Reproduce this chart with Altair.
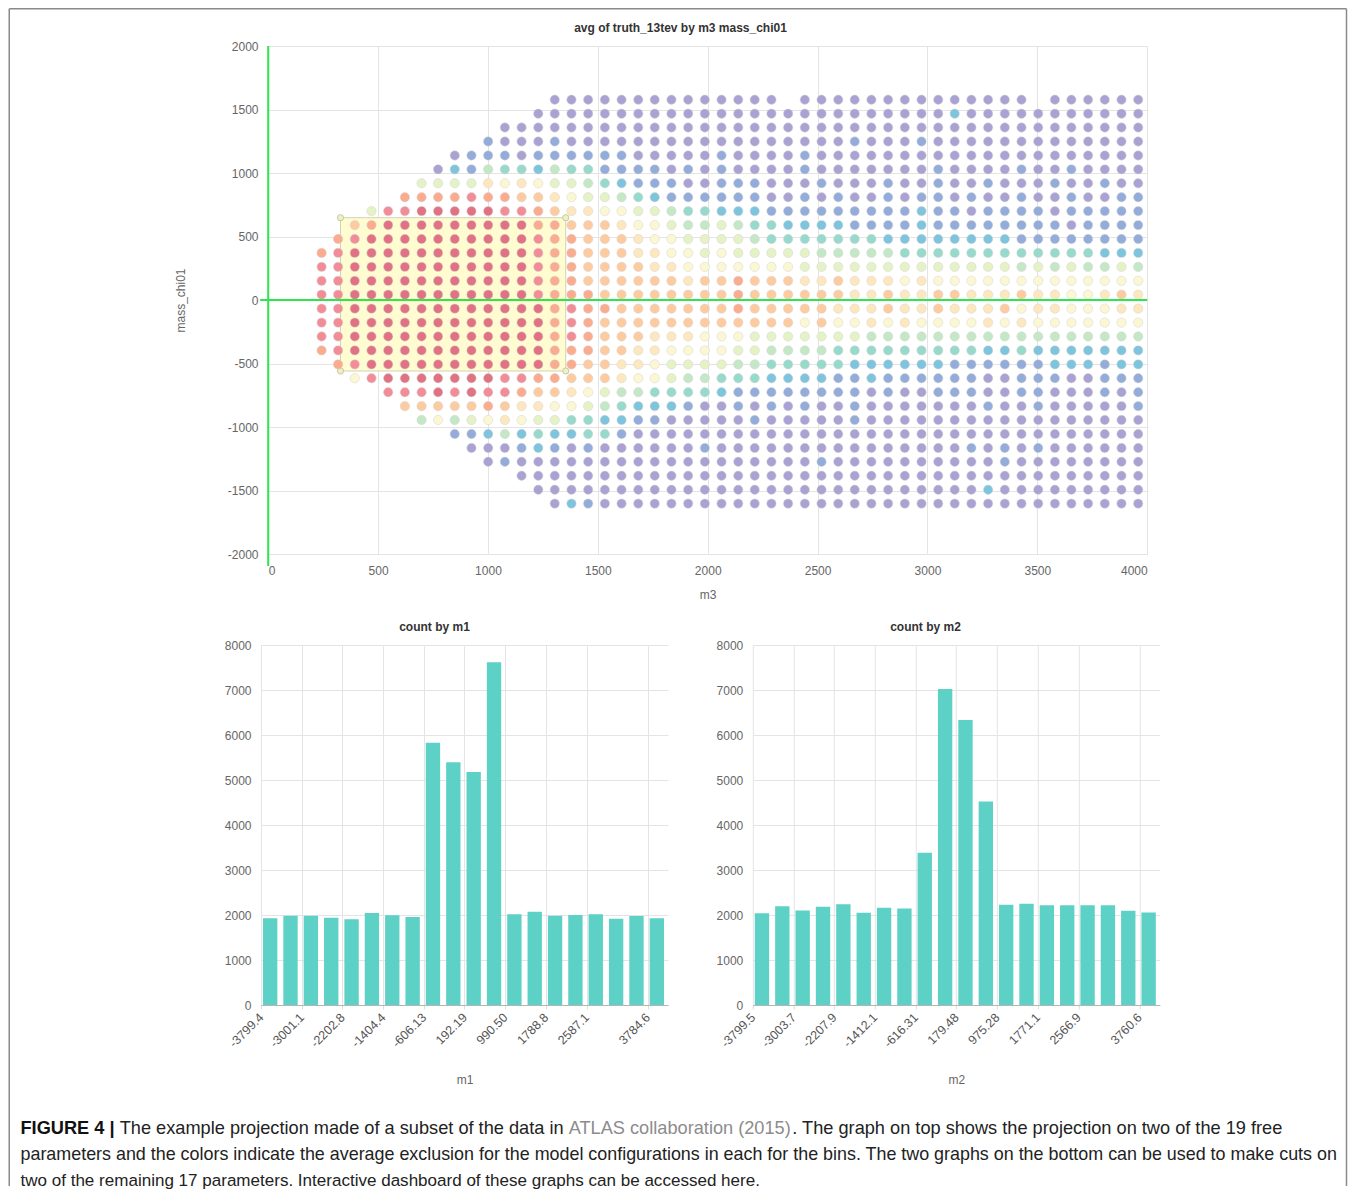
import altair as alt
import pandas as pd

# ---------------- top chart: binned grid (m3 x mass_chi01) ----------------
M3_CENTERS = [243, 318, 394, 470, 546, 622, 698, 773, 849, 925,
              1001, 1077, 1153, 1229, 1304, 1380, 1456, 1532, 1608, 1684,
              1759, 1835, 1911, 1987, 2063, 2139, 2214, 2290, 2366, 2442,
              2518, 2594, 2669, 2745, 2821, 2897, 2973, 3049, 3124, 3200,
              3276, 3352, 3428, 3504, 3580, 3655, 3731, 3807, 3883, 3959]
CHI_CENTERS = [1577, 1467, 1358, 1248, 1138, 1029, 919, 809, 700, 590,
               480, 371, 261, 151, 42, -68, -178, -287, -397, -507,
               -616, -726, -836, -945, -1055, -1165, -1274, -1384, -1494, -1603]

# one string per mass_chi01 row (top to bottom), one char per m3 column;
# '.' = empty bin, letters = average exclusion level (P lowest ... R highest)
GRID_ROWS = [
    ".........." "....PPPPPP" "PPPPPPPP.P" "PPPPPPPPPP" "PPP.PPPPPP",
    ".........." "...PPPPPPP" "PPPPPPPPPP" "PPPPPPPPCP" "PPPPPPPPPP",
    ".........." ".PPPPPPPPP" "PPPPPPPPPP" "PPPPPPPPPP" "PPPPPPPPPP",
    ".........." "BPPPBPPPPP" "PPPPPPPPPP" "PPBPPPBPPP" "PPPPPPPPPP",
    "........PB" "BBPBBBBBBP" "PPPPBPPPPB" "PPPPPPPPPP" "PPPPPPPPPP",
    ".......PCB" "GTTCGTTBBB" "BPBPBPPPPB" "PPPPPPPBPP" "PPBPPBPPPP",
    "......gggg" "yYyYggGTCB" "BBPPBBBPPP" "BPPPBPPBPP" "BPPPBPPBPP",
    ".....SSSSK" "SSOOyYggGT" "CBBBBBBPPB" "PBPPBPBBPB" "PPBPPBPPBB",
    "...gKKRRRR" "RKKSOyyYYg" "gGTTCCCBBB" "BBBBBBCBBP" "BBBBPBBBBB",
    "..OSRRRRRR" "RRRSSOOOyY" "YgGGgGTTCC" "CCBBBBCBBB" "BBBBBPBBBB",
    ".SKRRRRRRR" "RRRKSSOOOy" "YYggggGTTT" "TTTTCCCCCC" "CCBBBBBBBB",
    "SKRRRRRRRR" "RRRKSSOOOy" "yYYgYggggg" "GGGGGTTTTT" "TTTTTTTCCC",
    "KKRRRRRRRR" "RRRKSSOOOO" "yyYYYYYYYg" "gggggggggg" "ggGgGgGGgG",
    "KKRRRRRRRR" "RRRKSSOOOO" "OOyOOSOOOy" "yOyyyYyYYY" "YYYYYYYYYY",
    "KKRRRRRRRR" "RRRKSSSOOO" "OOOOOSOOOO" "OOyyOyyOOy" "yyOyyYYyOy",
    "KKRRRRRRRR" "RRRRSKSSOO" "OOOOOSOOOO" "OyyyOyyOyy" "yOYyyYYYyy",
    "KKRRRRRRRR" "RRRRSKSOOO" "OOOOOOOOOY" "OYYyYyYYYY" "yYyYYYYYYY",
    "KKRRRRRRRR" "RRRRSKSOOO" "yyyYYYgggg" "gggGGGGGGG" "GGGGGGGGGG",
    "SKRRRRRRRR" "RRRRSSSOOy" "yYYYYggGGG" "GTTTTTTTTT" "CCTCCCCCCC",
    ".SKRRRRRRR" "RRRRSSOOyy" "YggggGGTTT" "TTCCCCCCBB" "BBBBCCCBCC",
    "..YKRRRRRR" "RKKSSOOOyY" "YgGGTTTCCC" "CBBCBBBBBB" "PPBBBPPBBB",
    "....KKKRKR" "KKSOOyYgGG" "TTTTCBBBBB" "BBBPBPPBBB" "PPBBPPPBPB",
    ".....OOOOO" "SOyyYYgGTC" "CCBPPBPBPB" "PPBPPPPPPP" "BPPBPPPPPB",
    "......GYGg" "YyYggTTCCB" "BPPPPPBPPP" "PPBPPPPPPP" "PPPPPPPPPP",
    "........BB" "CGCTCCTTBP" "PPPPPPPPPP" "PPPPPPPPPP" "PPPPPPPPPP",
    ".........P" "PPBCBPBPPP" "PPPBPPPPPP" "PPPPPPPPPB" "PBPBPPPPPP",
    ".........." "PBPPPPPPPP" "PPPPPPPPPP" "BPPPPPPPPP" "PBPPPPPPPP",
    ".........." "..PPPPPPPP" "PPPPPPPPPP" "PPPPPPPPPP" "PPPPPPPPPP",
    ".........." "...PPPPPPP" "PPPPPPPPPP" "PPPPPPPPPP" "CPPPPPPPPP",
    ".........." "....PCBPPP" "PPPPPPPPPP" "PPPPPPPPPP" "PPPPPPPPPP",
]
LEVEL_CODES = "PBCTGgYyOSKR"
LEVEL_VALUES = [round(i / 11, 4) for i in range(len(LEVEL_CODES))]
LEVEL_COLORS = ["#aaa2d2", "#93acd9", "#7fc4dd", "#97dacb", "#c4e8c5", "#e4f2c5",
                "#fbf7d2", "#fde7be", "#fdcb9f", "#fbab8e", "#f28d98", "#e07283"]

X_TICKS = [0, 500, 1000, 1500, 2000, 2500, 3000, 3500, 4000]
Y_TICKS = [-2000, -1500, -1000, -500, 0, 500, 1000, 1500, 2000]

# current brush selection on the top chart
SEL_M3 = [329, 1354]
SEL_CHI = [-559, 648]

# ---------------- bottom histograms ----------------
M1_START, M1_WIDTH = -3799.4, 399.16
M1_COUNTS = [1926, 1985, 1985, 1941, 1904, 2044, 1993, 1956, 5830, 5393,
             5178, 7615, 2015, 2074, 1985, 2000, 2015, 1919, 1978, 1926]
M1_TICK_LABELS = ["-3799.4", "-3001.1", "-2202.8", "-1404.4", "-606.13",
                  "192.19", "990.50", "1788.8", "2587.1", "3784.6"]

M2_START, M2_WIDTH = -3799.5, 397.9
M2_COUNTS = [2041, 2196, 2100, 2181, 2240, 2048, 2159, 2144, 3386, 7024,
             6336, 4525, 2226, 2248, 2218, 2218, 2218, 2218, 2093, 2056]
M2_TICK_LABELS = ["-3799.5", "-3003.7", "-2207.9", "-1412.1", "-616.31",
                  "179.48", "975.28", "1771.1", "2566.9", "3760.6"]
COUNT_TICKS = [0, 1000, 2000, 3000, 4000, 5000, 6000, 7000, 8000]

TITLE_TOP = "avg of truth_13tev by m3 mass_chi01"
TITLE_M1 = "count by m1"
TITLE_M2 = "count by m2"

CAPTION_LABEL = "FIGURE 4 |"
CAPTION_L1A = "The example projection made of a subset of the data in"
CAPTION_LINK = "ATLAS collaboration (2015)"
CAPTION_L1B = ". The graph on top shows the projection on two of the 19 free"
CAPTION_L2 = ("parameters and the colors indicate the average exclusion for the model "
              "configurations in each for the bins. The two graphs on the bottom can be used to make cuts on")
CAPTION_L3 = "two of the remaining 17 parameters. Interactive dashboard of these graphs can be accessed here."

FONT = "Liberation Sans"
BORDER = "#8a8a8a"
GREEN = "#2de64b"
BAR = "#5dd1c5"

# ---------------- build tables ----------------
recs = []
for r, row in enumerate(GRID_ROWS):
    assert len(row) == len(M3_CENTERS)
    for c, ch in enumerate(row):
        if ch == ".":
            continue
        recs.append({"m3": M3_CENTERS[c], "mass_chi01": CHI_CENTERS[r],
                     "avg_truth_13tev": LEVEL_VALUES[LEVEL_CODES.index(ch)]})
grid_df = pd.DataFrame(recs)

# layout (all flush): top view origin (260.5, 46) on the page, bottom views at y=645
LEAD = 7.2                     # empty lead-in left of m3 = 0
W_T, H_T = 879 + LEAD, 508
W_B, H_B = 407, 360

xs = alt.Scale(domain=[0, 4000], range=[LEAD, W_T], nice=False, zero=False)
ys = alt.Scale(domain=[-2000, 2000], nice=False, zero=False)
lab_expr = "replace(datum.label, '\u2212', '-')"

x_axis = alt.Axis(values=X_TICKS, format="d", labelExpr=lab_expr, labelPadding=11,
                  titleX=LEAD + 439.5, titleY=40, titleBaseline="middle", titleAlign="center")
y_axis = alt.Axis(values=Y_TICKS, format="d", labelExpr=lab_expr, labelPadding=3,
                  titleX=-80.5, titleY=H_T / 2, titleBaseline="middle", titleAlign="center")

one = pd.DataFrame({"k": [0]})

sel_rect = alt.Chart(pd.DataFrame({"m3": [SEL_M3[0]], "m3_2": [SEL_M3[1]],
                                   "mass_chi01": [SEL_CHI[0]], "chi_2": [SEL_CHI[1]]})).mark_rect(
    fill="#fffcd2", stroke="#d2d2b4", strokeWidth=1
).encode(
    x=alt.X("m3:Q", scale=xs, title="m3"), x2="m3_2:Q",
    y=alt.Y("mass_chi01:Q", scale=ys, title="mass_chi01"), y2="chi_2:Q",
)
sel_handles = alt.Chart(pd.DataFrame({
    "m3": [SEL_M3[0], SEL_M3[1], SEL_M3[0], SEL_M3[1]],
    "mass_chi01": [SEL_CHI[0], SEL_CHI[0], SEL_CHI[1], SEL_CHI[1]],
})).mark_circle(size=38, fill="#edf2c4", stroke="#c8c8a8", strokeWidth=1, opacity=1).encode(
    x=alt.X("m3:Q", scale=xs, title="m3"),
    y=alt.Y("mass_chi01:Q", scale=ys, title="mass_chi01"),
)
dots = alt.Chart(grid_df).mark_circle(size=88, opacity=1, stroke="#d4d4d4", strokeWidth=0.5).encode(
    x=alt.X("m3:Q", scale=xs, axis=x_axis, title="m3"),
    y=alt.Y("mass_chi01:Q", scale=ys, axis=y_axis, title="mass_chi01"),
    color=alt.Color("avg_truth_13tev:Q", legend=None,
                    scale=alt.Scale(domain=LEVEL_VALUES, range=LEVEL_COLORS)),
)
zero_v = alt.Chart(pd.DataFrame({"m3": [0], "mass_chi01": [2000], "chi_2": [-2000]})).mark_rule(
    color=GREEN, strokeWidth=2, y2Offset=12
).encode(x=alt.X("m3:Q", scale=xs, title="m3"),
         y=alt.Y("mass_chi01:Q", scale=ys, title="mass_chi01"), y2="chi_2:Q")
zero_h = alt.Chart(pd.DataFrame({"m3": [0], "m3_2": [4000], "mass_chi01": [0]})).mark_rule(
    color=GREEN, strokeWidth=2, xOffset=-8
).encode(x=alt.X("m3:Q", scale=xs, title="m3"), x2="m3_2:Q",
         y=alt.Y("mass_chi01:Q", scale=ys, title="mass_chi01"))


def txt(s, x, y, size=12, weight="bold", color="#333", align="center"):
    return alt.Chart(pd.DataFrame({"t": [s]})).mark_text(
        font=FONT, fontSize=size, fontWeight=weight, color=color, align=align, baseline="middle"
    ).encode(text="t:N", x=alt.value(x), y=alt.value(y))


def vline(x, y1, y2):
    return alt.Chart(one).mark_rule(color=BORDER, strokeWidth=1.5).encode(
        x=alt.value(x), y=alt.value(y1), y2=alt.value(y2))


def hline(x1, x2, y):
    return alt.Chart(one).mark_rule(color=BORDER, strokeWidth=1.5).encode(
        x=alt.value(x1), x2=alt.value(x2), y=alt.value(y))


# frame and caption, positioned relative to the top view origin (260.5, 46)
FX0, FX1, FY0, FY1 = -251.75, 1085.5, -37.25, 1140
CY1, CY2, CY3 = 1083, 1109, 1135
frame = [hline(FX0, FX1, FY0), vline(FX0, FY0, FY1), vline(FX1, FY0, FY1)]
caption = [
    txt(CAPTION_LABEL, -240.5, CY1, size=18.2, weight="bold", color="#111", align="left"),
    txt(CAPTION_L1A, -141.3, CY1, size=18.2, weight="normal", color="#222", align="left"),
    txt(CAPTION_LINK, 307.7, CY1, size=18.2, weight="normal", color="#8c8c8c", align="left"),
    txt(CAPTION_L1B, 531.3, CY1, size=18.2, weight="normal", color="#222", align="left"),
    txt(CAPTION_L2, -240.5, CY2, size=17.9, weight="normal", color="#222", align="left"),
    txt(CAPTION_L3, -240.5, CY3, size=17.05, weight="normal", color="#222", align="left"),
]

top = alt.layer(
    sel_rect, sel_handles, dots, zero_v, zero_h,
    txt(TITLE_TOP, 419.5, -18),
    *frame, *caption,
).properties(width=W_T, height=H_T)


def hist(counts, start, width, tick_labels, name, title, title_x):
    lo = [start + i * width for i in range(len(counts))]
    hi = [start + (i + 1) * width for i in range(len(counts))]
    df = pd.DataFrame({name + "_lo": lo, name + "_hi": hi, "count": counts,
                       "base": [0] * len(counts)})
    tick_vals = [float(s) for s in tick_labels]
    expr = "%s[indexof(%s, datum.value)]" % (
        "[" + ",".join("'%s'" % s for s in tick_labels) + "]",
        "[" + ",".join(repr(v) for v in tick_vals) + "]")
    xsc = alt.Scale(domain=[start, start + len(counts) * width], nice=False, zero=False)
    bars = alt.Chart(df).mark_bar(color=BAR, xOffset=2, x2Offset=-4).encode(
        x=alt.X(name + "_lo:Q", scale=xsc, title=name,
                axis=alt.Axis(values=tick_vals, labelExpr=expr, labelAngle=315,
                              labelAlign="right", labelBaseline="middle", labelPadding=6,
                              labelFontSize=12.5, labelColor="#555555",
                              domain=True, domainColor="#b5b5b5", ticks=True, tickSize=4,
                              tickColor="#dddddd", titleX=W_B / 2, titleY=74,
                              titleBaseline="middle", titleAlign="center")),
        x2=name + "_hi:Q",
        y=alt.Y("count:Q", scale=alt.Scale(domain=[0, 8000], nice=False), title=None,
                axis=alt.Axis(values=COUNT_TICKS, format="d", labelPadding=10)),
        y2="base:Q",
    )
    return alt.layer(bars, txt(title, title_x, -18)).properties(width=W_B, height=H_B)


left = hist(M1_COUNTS, M1_START, M1_WIDTH, M1_TICK_LABELS, "m1", TITLE_M1, 173.5)
right = hist(M2_COUNTS, M2_START, M2_WIDTH, M2_TICK_LABELS, "m2", TITLE_M2, 172.7)

bottom = alt.hconcat(left, right, spacing=84.8, bounds="flush")

chart = alt.vconcat(top, bottom, spacing=91, bounds="flush").properties(padding=0).configure(
    font=FONT
).configure_view(stroke=None).configure_axis(
    labelFont=FONT, labelFontSize=12, labelColor="#666666",
    titleFont=FONT, titleFontSize=12, titleFontWeight="normal", titleColor="#666666",
    gridColor="#e4e4e4", gridWidth=1, domain=False, ticks=False,
)

chart.save("out.html", embed_options={"renderer": "svg", "actions": False})
